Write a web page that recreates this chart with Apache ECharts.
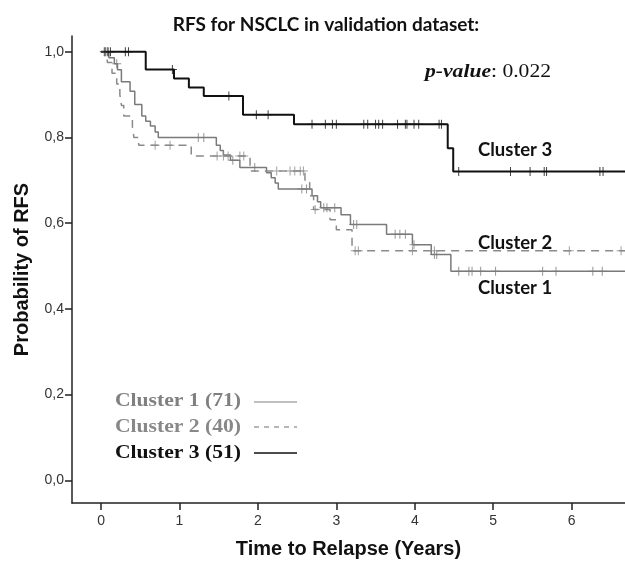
<!DOCTYPE html>
<html>
<head>
<meta charset="utf-8">
<script src="https://cdn.jsdelivr.net/npm/echarts@6/dist/echarts.min.js"></script>
<style>
html, body { margin: 0; padding: 0; background: #fff; }
#chart { width: 625px; height: 562px; }
</style>
</head>
<body>
<div id="chart"></div>
<script>
// tick values
var xTicks = [0, 1, 2, 3, 4, 5, 6];
var yTicks = [0, 0.2, 0.4, 0.6, 0.8, 1.0];

// Kaplan-Meier steps [time (years), survival from that time on]
var cluster1Steps = [
    [0, 1.0], [0.10, 0.986], [0.17, 0.972], [0.21, 0.958], [0.26, 0.93], [0.37, 0.908],
    [0.43, 0.877], [0.52, 0.85], [0.57, 0.838], [0.63, 0.827], [0.69, 0.813], [0.73, 0.80],
    [1.47, 0.782], [1.52, 0.770], [1.56, 0.759], [1.65, 0.747], [1.77, 0.730],
    [2.11, 0.718], [2.17, 0.706], [2.22, 0.694], [2.26, 0.68],
    [2.69, 0.664], [2.76, 0.650], [2.80, 0.636], [3.06, 0.62], [3.18, 0.597],
    [3.64, 0.574], [3.97, 0.55], [4.21, 0.527], [4.46, 0.488]
];
var cluster1Censor = [0.04, 0.08, 0.20, 1.24, 1.31, 1.68, 1.96, 2.56, 2.62, 2.84, 2.88, 2.98,
    3.22, 3.26, 3.75, 3.81, 3.88, 3.99, 4.25, 4.28, 4.56, 4.69, 4.73, 4.84, 5.03, 5.63, 5.80, 6.27, 6.39];

var cluster2Steps = [
    [0, 1.0], [0.08, 0.975], [0.14, 0.95], [0.20, 0.925], [0.24, 0.90], [0.26, 0.875],
    [0.29, 0.85], [0.40, 0.825], [0.42, 0.80], [0.48, 0.782], [1.15, 0.757], [1.90, 0.722],
    [2.60, 0.695], [2.66, 0.664], [2.71, 0.632], [2.92, 0.608], [3.00, 0.585], [3.20, 0.536]
];
var cluster2Censor = [0.06, 0.69, 0.88, 1.48, 1.56, 1.62, 1.77, 1.82, 2.24, 2.41, 2.47, 2.54, 2.58,
    2.73, 3.24, 3.28, 3.97, 4.25, 5.97, 6.63];

var cluster3Steps = [
    [0, 1.0], [0.57, 0.959], [0.93, 0.938], [1.12, 0.917], [1.31, 0.897], [1.81, 0.853],
    [2.46, 0.831], [4.42, 0.775], [4.49, 0.721]
];
var cluster3Censor = [0.05, 0.09, 0.12, 0.31, 0.35, 0.91, 1.63, 1.98, 2.13, 2.69, 2.86, 2.95, 3.0,
    3.35, 3.40, 3.50, 3.54, 3.59, 3.78, 3.88, 3.90, 3.99, 4.05, 4.31, 4.34, 4.56, 5.22, 5.47,
    5.65, 5.68, 6.36, 6.40];

var xMax = 6.68;
var plus = 'path://M4,0H5V4H9V5H5V9H4V5H0V4H4Z';

(function () {
    var myChart = echarts.init(document.getElementById('chart'));

    function survAt(steps, t) {
        var s = steps[0][1];
        for (var i = 0; i < steps.length; i++) {
            if (steps[i][0] <= t) s = steps[i][1];
        }
        return s;
    }
    function lineData(steps) {
        return steps.concat([[xMax, steps[steps.length - 1][1]]]);
    }
    function censorData(steps, times) {
        return times.map(function (t) { return [t, survAt(steps, t)]; });
    }

    function kmLine(name, steps, color, width, dash) {
        return {
            name: name, type: 'line', step: 'end', symbol: 'none',
            data: lineData(steps),
            lineStyle: { color: color, width: width, type: dash || 'solid' },
            z: 3
        };
    }
    function kmCensor(name, steps, times, color) {
        return {
            name: name, type: 'scatter', symbol: plus, symbolSize: 9,
            data: censorData(steps, times),
            itemStyle: { color: color },
            z: 4
        };
    }

    // text helper, stretched a bit like the original figure
    function txt(x, y, text, font, size, color, sx) {
        return {
            type: 'text', x: x, y: y, scaleX: sx || 1,
            style: {
                text: text, fontFamily: font, fontWeight: 'bold', fontSize: size,
                fill: color, textAlign: 'left', textVerticalAlign: 'middle'
            }
        };
    }

    var option = {
        backgroundColor: '#fff',
        animation: false,
        title: {
            text: 'RFS for NSCLC in validation dataset:',
            left: 321, top: 10, textAlign: 'center',
            textStyle: { fontFamily: 'Lato', fontWeight: 'bold', fontSize: 19, color: '#111' }
        },
        grid: { left: 72, right: 0, top: 36, bottom: 59, containLabel: false, outerBoundsMode: 'none' },
        xAxis: {
            type: 'value', min: -0.37, max: xMax,
            name: 'Time to Relapse (Years)', nameLocation: 'middle', nameGap: 36,
            nameTextStyle: { fontFamily: 'Liberation Sans', fontWeight: 'bold', fontSize: 20, color: '#111' },
            axisLine: { onZero: false, lineStyle: { color: '#222', width: 1.5 } },
            axisTick: { customValues: xTicks, length: 7, lineStyle: { color: '#222', width: 1.5 } },
            axisLabel: { customValues: xTicks, fontFamily: 'Liberation Sans', fontSize: 14, color: '#333', margin: 11 },
            splitLine: { show: false }
        },
        yAxis: {
            type: 'value', min: -0.053, max: 1.037,
            name: 'Probability of RFS', nameLocation: 'middle', nameGap: 40,
            nameTextStyle: { fontFamily: 'Liberation Sans', fontWeight: 'bold', fontSize: 20, color: '#111' },
            axisLine: { show: true, onZero: false, lineStyle: { color: '#222', width: 1.5 } },
            axisTick: { show: true, customValues: yTicks, length: 7, lineStyle: { color: '#222', width: 1.5 } },
            axisLabel: {
                customValues: yTicks, fontFamily: 'Liberation Sans', fontSize: 14, color: '#333', margin: 8,
                formatter: function (v) { return v.toFixed(1).replace('.', ','); }
            },
            splitLine: { show: false }
        },
        series: [
            kmLine('Cluster 1', cluster1Steps, '#7a7a7a', 1.5),
            kmCensor('Cluster 1 censored', cluster1Steps, cluster1Censor, '#7a7a7a'),
            kmLine('Cluster 2', cluster2Steps, '#8a8a8a', 1.5, [8, 6]),
            kmCensor('Cluster 2 censored', cluster2Steps, cluster2Censor, '#8a8a8a'),
            kmLine('Cluster 3', cluster3Steps, '#111', 2),
            kmCensor('Cluster 3 censored', cluster3Steps, cluster3Censor, '#111')
        ],
        graphic: [
            // labels near the curves
            txt(478, 150, 'Cluster 3', 'Lato', 18.5, '#111'),
            txt(478, 243, 'Cluster 2', 'Lato', 18.5, '#111'),
            txt(478, 288, 'Cluster 1', 'Lato', 18.5, '#111'),
            // p-value
            {
                type: 'text', x: 425, y: 72, scaleX: 1.2,
                style: {
                    text: '{i|p-value}{n|: 0.022}', textAlign: 'left', textVerticalAlign: 'middle',
                    rich: {
                        i: { fontFamily: 'Liberation Serif', fontStyle: 'italic', fontWeight: 'bold', fontSize: 18, fill: '#111' },
                        n: { fontFamily: 'Liberation Serif', fontSize: 18, fill: '#111' }
                    }
                }
            },
            // legend
            txt(115, 401, 'Cluster 1 (71)', 'Liberation Serif', 18, '#808080', 1.2),
            txt(115, 427, 'Cluster 2 (40)', 'Liberation Serif', 18, '#888', 1.2),
            txt(115, 453, 'Cluster 3 (51)', 'Liberation Serif', 18, '#111', 1.2),
            { type: 'line', shape: { x1: 254, y1: 402, x2: 297, y2: 402 }, style: { stroke: '#808080', lineWidth: 1.2 } },
            { type: 'line', shape: { x1: 254, y1: 427, x2: 297, y2: 427 }, style: { stroke: '#888', lineWidth: 1.2, lineDash: [5, 5] } },
            { type: 'line', shape: { x1: 254, y1: 453, x2: 297, y2: 453 }, style: { stroke: '#111', lineWidth: 1.5 } }
        ]
    };
    myChart.setOption(option);
})();
</script>
</body>
</html>
